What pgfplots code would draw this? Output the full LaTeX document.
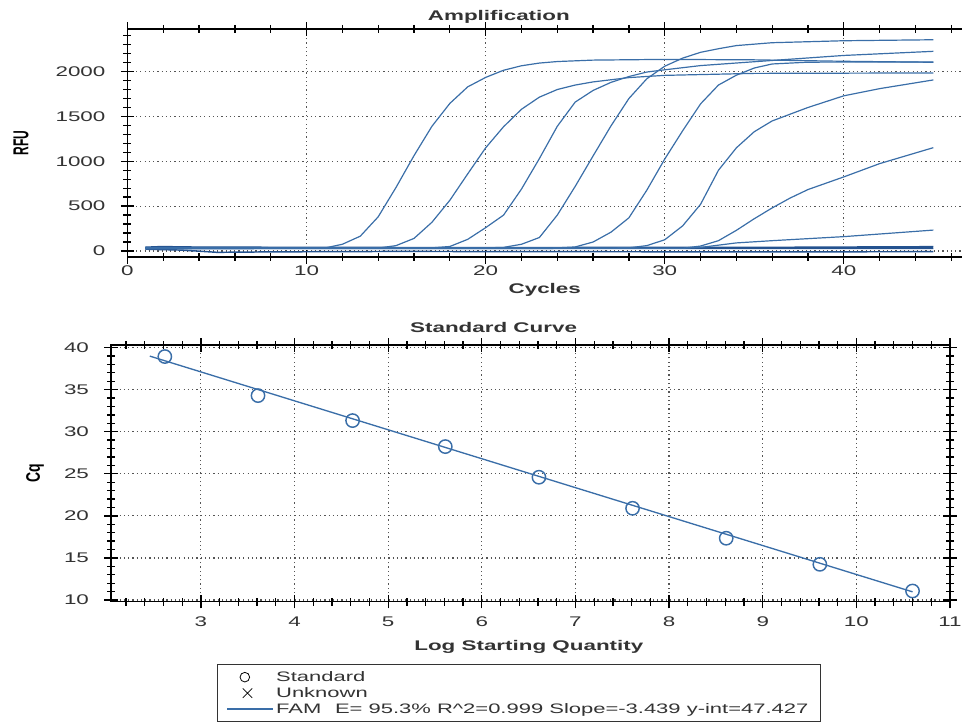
\documentclass[border=0pt]{standalone}
\usepackage{fontspec}
\setmainfont{Liberation Sans}[FakeStretch=1.6]
\newfontfamily\plainsans{Liberation Sans}
\newfontfamily\widesans[FakeStretch=1.6]{Liberation Sans}
\usepackage{pgfplots}
\pgfplotsset{compat=1.18}
\definecolor{qblue}{HTML}{3A6EA8}
\definecolor{qnavy}{HTML}{24528F}
\definecolor{griddot}{HTML}{555555}
\definecolor{ink}{HTML}{333333}

\pgfplotsset{
  qpcr/.style={
    scale only axis, anchor=south west,
    axis line style={black, line width=1.1pt},
    tick align=center,
    major tick length=10pt, minor tick length=6pt,
    tick style={black, line width=1pt},
    grid=major,
    major grid style={griddot, line width=0.9pt, dash pattern=on 0.9pt off 2.3pt},
    tick label style={font=\widesans\fontsize{10.5}{12}\selectfont, text=ink},
    title style={font=\fontsize{10.5}{12}\selectfont\bfseries, text=ink},
    xlabel style={font=\fontsize{10.5}{12}\selectfont\bfseries, text=ink},
  },
  curve/.style={qblue, line width=0.9pt},
  flat/.style={qnavy, line width=1.1pt},
  markleg/.style={legend image code/.code={%
    \draw[mark repeat=2, mark phase=2, ##1] plot coordinates {(0pt,0pt) (#1,0pt) (34pt,0pt)};}},
  lineleg/.style={legend image code/.code={\draw[##1] (0pt,0pt) -- (34pt,0pt);}},
}

\begin{document}
\begin{tikzpicture}
\useasboundingbox (0,0) rectangle (721.5pt,545.25pt);
\clip (0,0) rectangle (721.5pt,545.25pt);

% ---- amplification plot ----
\begin{axis}[qpcr,
  at={(95.6pt,352.5pt)}, width=625.9pt, height=171pt,
  xmin=0, xmax=46.6, ymin=-67, ymax=2475,
  xtick={0,10,20,30,40}, xticklabels={0,10,20,30,40}, minor xtick={2,4,...,46},
  ytick={0,500,...,2000}, yticklabels={0,500,1000,1500,2000}, minor ytick={100,200,...,2400},
  axis y line*=left,
  yticklabel style={xshift=-8pt},
  xticklabel style={yshift=2pt},
  title={Amplification}, title style={at={(axis description cs:0.445,1)}, anchor=base, yshift=0.2pt},
  xlabel={Cycles}, xlabel style={at={(axis description cs:0.5,-0.159)}, anchor=base},
  ylabel={RFU}, ylabel style={at={(axis description cs:-0.1276,0.5)}, anchor=center,
    font=\plainsans\fontsize{9}{10}\selectfont\bfseries, yscale=1.8},
  ]
% flat (no amplification) traces
\addplot[flat] coordinates {(1,42) (2,50) (3,45) (10,40) (20,38) (30,40) (35,40) (45,48)};
\addplot[flat] coordinates {(1,20) (3,10) (5,-15) (8,-10) (15,-5) (25,-8) (35,-10) (45,-8)};
\addplot[flat] coordinates {(1,35) (45,35)};
\addplot[flat] coordinates {(1,30) (45,28)};
% amplification traces
\addplot[curve] coordinates {(1,38) (3,30) (11,32) (12,75) (13,165) (14,381) (15,710) (16,1063) (17,1390) (18,1645) (19,1830) (20,1935) (21,2015) (22,2065) (23,2095) (24,2112) (26,2128) (30,2136) (35,2131) (40,2115) (45,2104)};
\addplot[curve] coordinates {(1,30) (14,32) (15,60) (16,140) (17,320) (18,565) (19,860) (20,1150) (21,1385) (22,1580) (23,1715) (24,1800) (25,1850) (26,1885) (28,1933) (30,1958) (35,1980) (45,1985)};
\addplot[curve] coordinates {(1,35) (17,35) (18,50) (19,130) (20,260) (21,400) (22,690) (23,1030) (24,1390) (25,1660) (26,1790) (27,1880) (28,1945) (29,1995) (30,2020) (32,2067) (35,2110) (40,2180) (45,2226)};
\addplot[curve] coordinates {(1,30) (20,35) (21,40) (22,75) (23,150) (24,400) (25,720) (26,1060) (27,1395) (28,1700) (29,1920) (30,2060) (31,2150) (32,2215) (33,2255) (34,2290) (36,2322) (40,2344) (45,2355)};
\addplot[curve] coordinates {(1,28) (24,35) (25,45) (26,100) (27,210) (28,370) (29,678) (30,1025) (31,1340) (32,1640) (33,1850) (34,1960) (35,2040) (36,2085) (38,2105) (45,2108)};
\addplot[curve] coordinates {(1,32) (28,35) (29,60) (30,125) (31,280) (32,520) (33,900) (34,1150) (35,1330) (36,1450) (37,1525) (38,1600) (40,1730) (42,1810) (45,1907)};
\addplot[curve] coordinates {(1,25) (31,30) (32,55) (33,115) (34,230) (35,360) (36,480) (37,590) (38,685) (40,826) (42,974) (45,1152)};
\addplot[curve] coordinates {(1,40) (31,30) (32,40) (33,65) (34,90) (36,115) (40,160) (45,233)};
\end{axis}

% ---- standard curve ----
\begin{axis}[qpcr,
  at={(83.25pt,93.98pt)}, width=629.25pt, height=192.5pt,
  xmin=2.04, xmax=11, ymin=9.8, ymax=40.3,
  xtick={3,...,11}, xticklabels={3,4,5,6,7,8,9,10,11}, minor xtick={2.2,2.4,...,10.9},
  ytick={10,15,...,40}, yticklabels={10,15,20,25,30,35,40}, minor ytick={10,11,...,40},
  yticklabel style={xshift=-8pt},
  xticklabel style={yshift=-3pt},
  title={Standard Curve}, title style={at={(axis description cs:0.456,1)}, anchor=base, yshift=3.2pt},
  xlabel={Log Starting Quantity}, xlabel style={at={(axis description cs:0.498,-0.192)}, anchor=base},
  ylabel={Cq}, ylabel style={at={(axis description cs:-0.0906,0.5)}, anchor=center,
    font=\plainsans\fontsize{10.5}{12}\selectfont\bfseries, yscale=1.4},
  legend cell align=left,
  legend style={at={(axis description cs:0.1263,-0.2427)}, anchor=north west,
    draw=black!80, line width=0.8pt, font=\fontsize{10.3}{11}\selectfont, text=ink,
    row sep=-1pt, inner xsep=7pt, inner ysep=3pt,
    /tikz/every even column/.append style={column sep=16pt}},
  ]
\addplot[forget plot, only marks, mark=o, mark size=5pt, qblue, line width=1.1pt]
  coordinates {(2.615,38.93) (3.61,34.29) (4.62,31.32) (5.61,28.23) (6.61,24.59) (7.61,20.9) (8.61,17.34) (9.61,14.24) (10.60,11.07)};
\addlegendimage{black, only marks, mark=o, mark size=3.6pt, line width=0.6pt, markleg=13pt}
\addlegendentry{Standard}
\addlegendimage{black, only marks, mark=x, mark size=5pt, line width=0.6pt, markleg=15pt}
\addlegendentry{Unknown}
\addplot[qblue, line width=1pt, lineleg]
  coordinates {(2.455,38.98) (10.60,10.97)};
\addlegendentry{FAM\quad E= 95.3\% R\textasciicircum 2=0.999 Slope=-3.439 y-int=47.427}
\end{axis}
\end{tikzpicture}
\end{document}
